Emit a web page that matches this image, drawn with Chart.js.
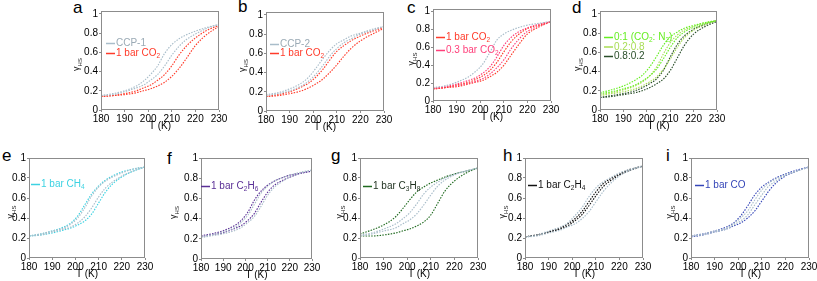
<!DOCTYPE html>
<html>
<head>
<meta charset="utf-8">
<script src="https://cdn.jsdelivr.net/npm/chart.js@4.4.0/dist/chart.umd.min.js"></script>
<style>
  body { margin: 0; background: #fff; }
  #fig { position: relative; width: 817px; height: 281px; overflow: hidden; }
  #fig canvas { position: absolute; }
  .lbl { position: absolute; font: 17px 'Liberation Sans', Arial, sans-serif; line-height: 17px; color: #000; }
</style>
</head>
<body>
<div id="fig"></div>
<script>
// temperature grid shared by every curve (K)
const T = [180, 185, 190, 195, 198, 201, 204, 207, 210, 213, 216, 220, 225, 230];

// panel a: CCP-1 vs 1 bar CO2
const aGray1 = [.15, .17, .20, .25, .30, .37, .46, .59, .68, .74, .78, .82, .86, .89];
const aGray2 = [.15, .16, .19, .23, .26, .31, .37, .46, .57, .66, .73, .79, .85, .89];
const aRed1  = [.14, .15, .17, .20, .23, .26, .31, .37, .46, .57, .66, .75, .83, .88];
const aRed2  = [.14, .15, .16, .18, .20, .22, .25, .29, .35, .43, .53, .67, .79, .87];

// panel b: CCP-2 vs 1 bar CO2
const bGray1 = [.17, .19, .23, .29, .35, .44, .54, .63, .70, .74, .78, .81, .85, .88];
const bGray2 = [.16, .18, .21, .26, .31, .38, .47, .57, .65, .71, .75, .80, .84, .88];
const bRed1  = [.15, .17, .20, .25, .29, .35, .43, .53, .62, .68, .73, .78, .83, .87];
const bRed2  = [.15, .16, .18, .21, .24, .28, .33, .40, .48, .57, .65, .73, .80, .86];

// panel c: 1 bar vs 0.3 bar CO2
const cGray  = [.15, .17, .21, .27, .33, .41, .54, .68, .75, .79, .82, .85, .87, .89];
const cPink1 = [.14, .16, .19, .23, .26, .31, .38, .49, .62, .71, .77, .82, .86, .89];
const cRed1  = [.14, .15, .18, .21, .24, .28, .34, .43, .55, .66, .74, .81, .85, .89];
const cPink2 = [.14, .15, .17, .20, .22, .25, .30, .37, .46, .58, .68, .78, .84, .89];
const cRed2  = [.13, .15, .16, .19, .21, .23, .27, .32, .40, .51, .62, .75, .83, .89];

// panel d: CO2:N2 mixtures
const dLime1 = [.18, .21, .25, .31, .36, .44, .55, .67, .76, .81, .85, .88, .91, .93];
const dLime2 = [.17, .19, .22, .26, .30, .35, .42, .53, .65, .75, .81, .86, .90, .93];
const dMid1  = [.16, .18, .21, .25, .29, .35, .44, .58, .70, .78, .83, .87, .91, .93];
const dMid2  = [.15, .17, .19, .22, .25, .29, .34, .42, .53, .65, .75, .83, .89, .93];
const dDark1 = [.13, .15, .17, .20, .23, .27, .32, .41, .55, .68, .77, .84, .89, .93];
const dDark2 = [.13, .14, .16, .18, .20, .23, .27, .32, .41, .54, .67, .79, .87, .92];

// panel e: CH4
const eGas1  = [.22, .24, .27, .31, .35, .42, .53, .64, .72, .78, .82, .86, .89, .91];
const eGas2  = [.22, .23, .25, .28, .30, .33, .37, .44, .55, .66, .74, .81, .87, .91];
const eGray1 = [.22, .24, .27, .30, .34, .40, .50, .62, .71, .77, .81, .85, .89, .91];
const eGray2 = [.22, .23, .26, .29, .31, .35, .41, .50, .61, .70, .76, .82, .87, .91];

// panel f: C2H6
const fGas1  = [.23, .25, .28, .33, .38, .46, .58, .67, .73, .77, .80, .83, .85, .87];
const fGas2  = [.22, .24, .26, .30, .33, .38, .45, .56, .66, .73, .77, .81, .85, .87];
const fGray1 = [.22, .24, .27, .31, .36, .43, .54, .65, .72, .77, .80, .83, .86, .88];
const fGray2 = [.21, .23, .25, .28, .31, .36, .42, .52, .63, .71, .76, .81, .85, .88];

// panel g: C3H8
const gGas1  = [.24, .28, .33, .41, .49, .58, .66, .71, .75, .78, .81, .84, .87, .90];
const gGas2  = [.22, .22, .23, .25, .27, .29, .32, .36, .43, .55, .67, .77, .85, .90];
const gGray1 = [.23, .25, .29, .34, .39, .45, .54, .64, .71, .76, .80, .84, .87, .90];
const gGray2 = [.22, .24, .27, .30, .34, .38, .44, .53, .63, .72, .78, .83, .87, .90];

// panel h: C2H4
const hGas1  = [.21, .23, .26, .30, .34, .39, .46, .56, .66, .74, .79, .84, .89, .92];
const hGas2  = [.21, .23, .26, .29, .32, .37, .43, .52, .62, .71, .77, .83, .88, .92];
const hGray1 = [.21, .23, .27, .31, .35, .42, .50, .61, .70, .76, .80, .85, .89, .92];
const hGray2 = [.21, .22, .25, .28, .31, .34, .39, .46, .56, .66, .74, .82, .88, .92];

// panel i: CO
const iGas1  = [.22, .24, .27, .31, .35, .42, .52, .63, .71, .76, .80, .84, .88, .91];
const iGas2  = [.21, .23, .26, .29, .32, .35, .40, .47, .57, .67, .75, .82, .87, .91];
const iGray1 = [.22, .24, .27, .30, .34, .40, .47, .58, .68, .75, .79, .83, .87, .91];
const iGray2 = [.22, .23, .26, .29, .33, .37, .43, .53, .63, .72, .77, .83, .87, .91];

const xTicks = [180, 190, 200, 210, 220, 230];
const yTicks = [0, 0.2, 0.4, 0.6, 0.8, 1];

const GRAY = '#a9bdca';
const RED = '#ff3b2a';
const PINK = '#ff3f7a';
const FONT = "'Liberation Sans Narrow', 'Arial Narrow', 'Liberation Sans', Arial, sans-serif";

// plot boxes in page pixels + legend placement
const panels = [
  { id: 'a', box: [101, 219, 8, 110], ymax: 1.03, letter: [73, -1], yt: 24,
    series: [[aGray1, GRAY], [aGray2, GRAY], [aRed1, RED], [aRed2, RED]],
    legend: { x: 5, y: 32, gap: 10, items: [
      { c: GRAY, tc: '#9aaab5', t: [['CCP-1', 0]] },
      { c: RED, tc: RED, t: [['1 bar CO', 0], ['2', 1]] } ] } },
  { id: 'b', box: [266, 384, 9, 111], ymax: 1.03, letter: [238, -2], yt: 23,
    series: [[bGray1, GRAY], [bGray2, GRAY], [bRed1, RED], [bRed2, RED]],
    legend: { x: 4, y: 32, gap: 9, items: [
      { c: GRAY, tc: '#9aaab5', t: [['CCP-2', 0]] },
      { c: RED, tc: RED, t: [['1 bar CO', 0], ['2', 1]] } ] } },
  { id: 'c', box: [433, 551, 6, 101], ymax: 1.03, letter: [407, -1], yt: 21,
    series: [[cGray, GRAY], [cPink1, PINK], [cRed1, RED], [cPink2, PINK], [cRed2, RED]],
    legend: { x: 3, y: 28, gap: 13, items: [
      { c: RED, tc: RED, t: [['1 bar CO', 0], ['2', 1]] },
      { c: PINK, tc: PINK, t: [['0.3 bar CO', 0], ['2', 1]] } ] } },
  { id: 'd', box: [600, 717, 8, 110], ymax: 1.03, letter: [572, -1], yt: 22,
    series: [[dLime1, '#66ee22'], [dLime2, '#66ee22'], [dMid1, '#a8dd55'], [dMid2, '#a8dd55'],
             [dDark1, '#2a4f2a'], [dDark2, '#2a4f2a']],
    legend: { x: 4, y: 26, gap: 9.5, items: [
      { c: '#66ee22', tc: '#66ee22', t: [['0:1 (CO', 0], ['2', 1], [': N', 0], ['2', 1], [')', 0]] },
      { c: '#a8dd55', tc: '#a8dd55', t: [['0.2:0.8', 0]] },
      { c: '#2a4f2a', tc: '#2a4f2a', t: [['0.8:0.2', 0]] } ] } },
  { id: 'e', box: [29, 145, 155, 258], ymax: 1.0, letter: [2, 147], yt: 18,
    series: [[eGray1, GRAY], [eGray2, GRAY], [eGas1, '#3dd2e2'], [eGas2, '#3dd2e2']],
    legend: { x: 2, y: 26, gap: 0, items: [
      { c: '#3dd2e2', tc: '#3dd2e2', t: [['1 bar CH', 0], ['4', 1]] } ] } },
  { id: 'f', box: [201, 312, 155, 259], ymax: 1.0, letter: [167, 150], yt: 27,
    series: [[fGray1, GRAY], [fGray2, GRAY], [fGas1, '#5a2f96'], [fGas2, '#5a2f96']],
    legend: { x: 0, y: 28, gap: 0, items: [
      { c: '#5a2f96', tc: '#5a2f96', t: [['1 bar C', 0], ['2', 1], ['H', 0], ['6', 1]] } ] } },
  { id: 'g', box: [360, 478, 155, 258], ymax: 1.0, letter: [331, 147], yt: 20,
    series: [[gGray1, GRAY], [gGray2, GRAY], [gGas1, '#1f6a1f'], [gGas2, '#1f6a1f']],
    legend: { x: 3, y: 28, gap: 0, items: [
      { c: '#1f6a1f', tc: '#1d2f1d', t: [['1 bar C', 0], ['3', 1], ['H', 0], ['8', 1]] } ] } },
  { id: 'h', box: [525, 643, 155, 258], ymax: 1.0, letter: [503, 147], yt: 22,
    series: [[hGray1, GRAY], [hGray2, GRAY], [hGas1, '#111111'], [hGas2, '#111111']],
    legend: { x: 3, y: 27, gap: 0, items: [
      { c: '#111111', tc: '#111111', t: [['1 bar C', 0], ['2', 1], ['H', 0], ['4', 1]] } ] } },
  { id: 'i', box: [691, 809, 155, 258], ymax: 1.0, letter: [666, 147], yt: 21,
    series: [[iGray1, GRAY], [iGray2, GRAY], [iGas1, '#3546b8'], [iGas2, '#3546b8']],
    legend: { x: 4, y: 27, gap: 0, items: [
      { c: '#3546b8', tc: '#3546b8', t: [['1 bar CO', 0]] } ] } }
];

// draws the frame, the inline legend and the y title (gamma with HS subscript)
const decor = {
  id: 'decor',
  afterDraw(chart) {
    const ctx = chart.ctx;
    const a = chart.chartArea;
    const o = chart.options.plugins.decor;
    ctx.save();
    ctx.strokeStyle = '#8c8c8c';
    ctx.lineWidth = 1;
    ctx.strokeRect(a.left + 0.5, a.top + 0.5, a.right - a.left - 1, a.bottom - a.top - 1);

    // legend
    o.legend.items.forEach((it, k) => {
      const y = a.top + o.legend.y + k * o.legend.gap;
      let x = a.left + o.legend.x;
      ctx.strokeStyle = it.c;
      ctx.lineWidth = 1.5;
      ctx.beginPath();
      ctx.moveTo(x, y + 0.5);
      ctx.lineTo(x + 9, y + 0.5);
      ctx.stroke();
      x += 10;
      ctx.fillStyle = it.tc;
      ctx.textBaseline = 'middle';
      it.t.forEach(([s, sub]) => {
        ctx.font = (sub ? '6.5px ' : '10px ') + FONT;
        ctx.fillText(s, x, y + (sub ? 3 : 0.5));
        x += ctx.measureText(s).width;
      });
    });

    // y axis title
    ctx.translate(a.left - o.yt, (a.top + a.bottom) / 2 + 4);
    ctx.rotate(-Math.PI / 2);
    ctx.fillStyle = '#222';
    ctx.textBaseline = 'middle';
    ctx.font = '9px ' + FONT;
    const w1 = ctx.measureText('\u03b3').width;
    ctx.font = '6px ' + FONT;
    const w2 = ctx.measureText('HS').width;
    let x0 = -(w1 + w2) / 2;
    ctx.font = '9px ' + FONT;
    ctx.fillText('\u03b3', x0, 0);
    ctx.font = '6px ' + FONT;
    ctx.fillText('HS', x0 + w1, 3);
    ctx.restore();
  }
};

const fig = document.getElementById('fig');
const YW = 34, XH = 22, PT = 4, PR = 12;

panels.forEach(p => {
  const [L, R, Tp, B] = p.box;
  const lab = document.createElement('div');
  lab.className = 'lbl';
  lab.textContent = p.id;
  lab.style.left = p.letter[0] + 'px';
  lab.style.top = p.letter[1] + 'px';
  fig.appendChild(lab);

  const cv = document.createElement('canvas');
  cv.width = (R - L) + YW + PR;
  cv.height = (B - Tp) + PT + XH;
  cv.style.left = (L - YW) + 'px';
  cv.style.top = (Tp - PT) + 'px';
  fig.appendChild(cv);

  new Chart(cv, {
    type: 'line',
    data: {
      datasets: p.series.map(([vals, col]) => ({
        data: T.map((t, k) => ({ x: t, y: vals[k] })),
        borderColor: col,
        borderWidth: 1.15,
        borderDash: [1.5, 1.3],
        pointRadius: 0,
        cubicInterpolationMode: 'monotone',
        fill: false
      }))
    },
    options: {
      responsive: false,
      animation: false,
      events: [],
      layout: { padding: { left: 0, top: PT, right: PR, bottom: 0 } },
      plugins: {
        legend: { display: false },
        tooltip: { enabled: false },
        decor: { legend: p.legend, yt: p.yt }
      },
      scales: {
        x: {
          type: 'linear', min: 180, max: 230,
          afterBuildTicks: s => { s.ticks = xTicks.map(v => ({ value: v })); },
          afterFit: s => { s.height = XH; },
          grid: { drawOnChartArea: false, drawTicks: true, tickLength: 2, color: '#8c8c8c' },
          border: { display: false },
          ticks: { padding: 1, maxRotation: 0, color: '#000', font: { family: FONT, size: 10 } },
          title: { display: true, text: 'T (K)', color: '#000', padding: 0, font: { family: FONT, size: 10 } }
        },
        y: {
          type: 'linear', min: 0, max: p.ymax,
          afterBuildTicks: s => { s.ticks = yTicks.map(v => ({ value: v })); },
          afterFit: s => { s.width = YW; },
          grid: { drawOnChartArea: false, drawTicks: true, tickLength: 2, color: '#8c8c8c' },
          border: { display: false },
          ticks: { padding: 1, color: '#000', font: { family: FONT, size: 10 },
                   callback: v => String(Math.round(v * 10) / 10) }
        }
      }
    },
    plugins: [decor]
  });
});
</script>
</body>
</html>
